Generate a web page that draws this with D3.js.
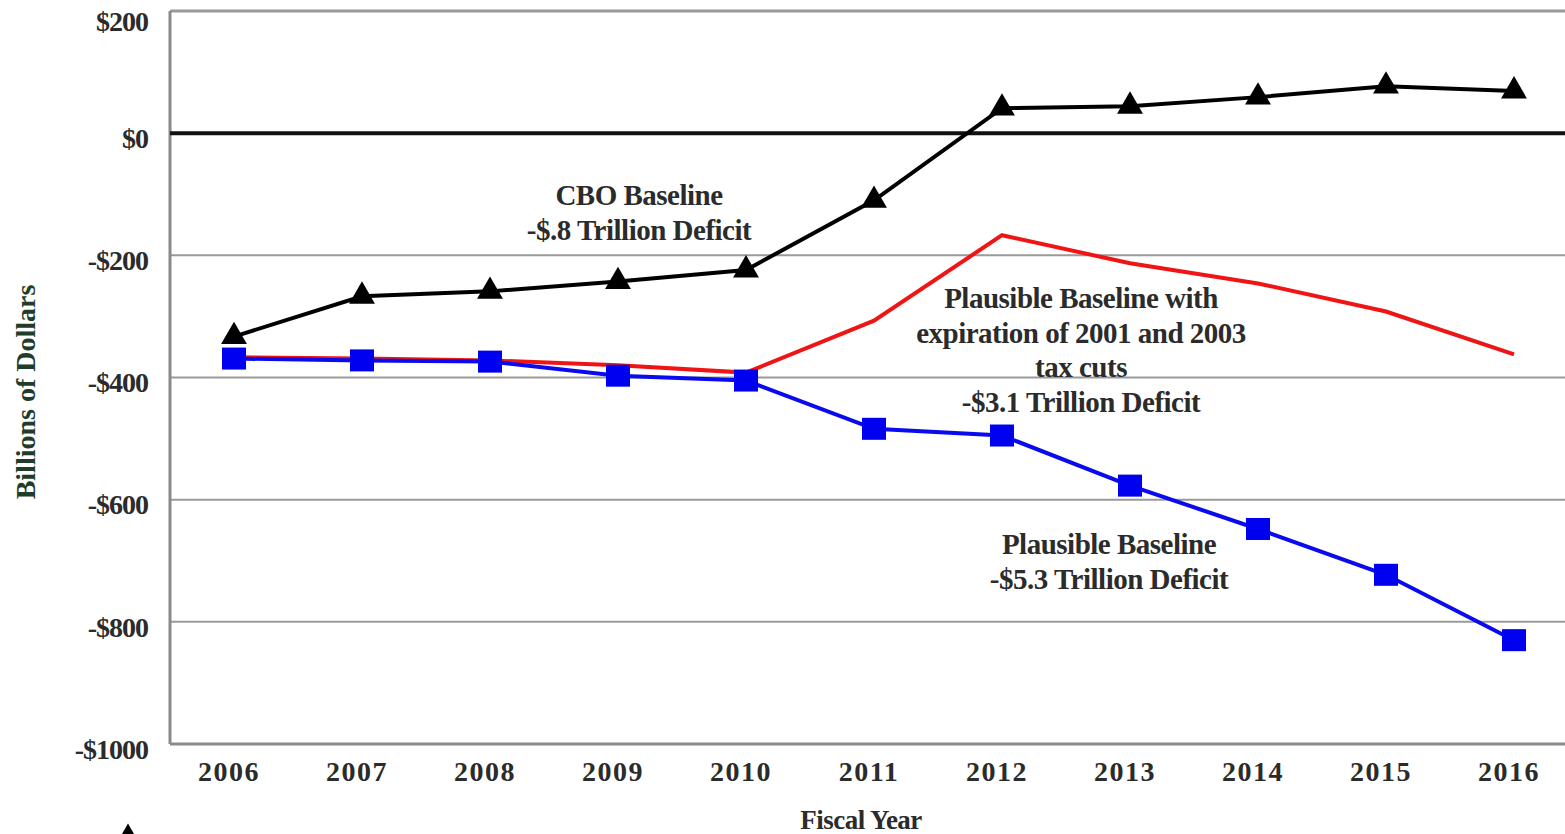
<!DOCTYPE html>
<html>
<head>
<meta charset="utf-8">
<script src="https://cdn.jsdelivr.net/npm/d3@7"></script>
<style>
  body { margin: 0; background: #fff; overflow: hidden; }
  svg { display: block; }
  text { font-family: "Liberation Serif", "DejaVu Serif", serif; font-weight: bold; fill: #2b2b2b; }
</style>
</head>
<body>
<div id="chart"></div>
<script>
// data, billions of dollars
const years = ['2006', '2007', '2008', '2009', '2010', '2011', '2012', '2013', '2014', '2015', '2016'];
const cboBaseline = [-333, -267, -259, -243, -224, -110, 41, 44, 59, 77, 69];
const taxCutsExpire = [-367, -369, -372, -380, -392, -307, -167, -213, -246, -292, -362];
const plausible = [-369, -372, -374, -397, -405, -484, -495, -577, -648, -723, -830];
const yTicks = [200, 0, -200, -400, -600, -800, -1000];
const yTickLabels = ['$200', '$0', '-$200', '-$400', '-$600', '-$800', '-$1000'];

const width = 1565, height = 834;
const margin = { top: 11, left: 170, bottom: 90 };
const plotRight = 1578;

const svg = d3.select('#chart')
.append('svg')
.attr('width', width)
.attr('height', height)

const x = d3.scaleBand()
.domain(years)
.range([margin.left, plotRight])

const y = d3.scaleLinear()
.domain([-1000, 200])
.range([height - margin.bottom, margin.top])

const xc = d => x(d) + x.bandwidth() / 2;

// grid
svg.append('g')
.selectAll('line')
.data(yTicks.filter(d => d != 0))
.enter()
.append('line')
.attr('x1', margin.left)
.attr('x2', plotRight)
.attr('y1', d => y(d))
.attr('y2', d => y(d))
.attr('stroke', d => d == -1000 ? '#8a8a8a' : '#9a9a9a')
.attr('stroke-width', d => d == -1000 || d == 200 ? 3 : 2)

svg.append('line')
.attr('x1', margin.left).attr('x2', margin.left)
.attr('y1', y(200)).attr('y2', y(-1000))
.attr('stroke', '#8a8a8a')
.attr('stroke-width', 3)

svg.append('line')
.attr('x1', margin.left).attr('x2', plotRight)
.attr('y1', y(0)).attr('y2', y(0))
.attr('stroke', '#111')
.attr('stroke-width', 4)

// y tick labels
svg.append('g')
.selectAll('text')
.data(yTicks)
.enter()
.append('text')
.attr('x', 148)
.attr('y', d => Math.max(y(d) + 5, 21))
.attr('dy', '0.35em')
.attr('text-anchor', 'end')
.style('font-size', '28px')
.style('letter-spacing', '-1px')
.text((d, i) => yTickLabels[i])

// x tick labels
svg.append('g')
.selectAll('text')
.data(years)
.enter()
.append('text')
.attr('x', d => xc(d) - 5)
.attr('y', 781)
.attr('text-anchor', 'middle')
.style('font-size', '28px')
.style('letter-spacing', '1.5px')
.text(d => d)

svg.append('text')
.attr('x', 861)
.attr('y', 829)
.attr('text-anchor', 'middle')
.style('font-size', '27px')
.style('letter-spacing', '-0.5px')
.text('Fiscal Year')

svg.append('text')
.attr('transform', 'translate(35,392) rotate(-90)')
.attr('text-anchor', 'middle')
.style('font-size', '28px')
.style('fill', '#1e3d2a')
.text('Billions of Dollars')

const line = d3.line()
.x((d, i) => xc(years[i]))
.y(d => y(d))

// CBO baseline
svg.append('path')
.datum(cboBaseline)
.attr('d', line)
.attr('fill', 'none')
.attr('stroke', '#000')
.attr('stroke-width', 4)

svg.append('g')
.selectAll('path')
.data(cboBaseline)
.enter()
.append('path')
.attr('d', d3.symbol().type(d3.symbolTriangle).size(290))
.attr('transform', (d, i) => 'translate(' + xc(years[i]) + ',' + y(d) + ')')
.attr('fill', '#000')

// tax cuts expire
svg.append('path')
.datum(taxCutsExpire)
.attr('d', line)
.attr('fill', 'none')
.attr('stroke', '#f01515')
.attr('stroke-width', 4)

// plausible baseline
svg.append('path')
.datum(plausible)
.attr('d', line)
.attr('fill', 'none')
.attr('stroke', '#0a0aee')
.attr('stroke-width', 4)

svg.append('g')
.selectAll('rect')
.data(plausible)
.enter()
.append('rect')
.attr('x', (d, i) => xc(years[i]) - 12)
.attr('y', d => y(d) - 11)
.attr('width', 24)
.attr('height', 22)
.attr('fill', '#0000f0')

// annotations
const note = (cx, lines, top) => {
	svg.append('g')
	.selectAll('text')
	.data(lines)
	.enter()
	.append('text')
	.attr('x', cx)
	.attr('y', (d, i) => top + i * 34.5)
	.attr('text-anchor', 'middle')
	.style('font-size', '29px')
	.style('letter-spacing', '-0.5px')
	.text(d => d)
}

note(639, ['CBO Baseline', '-$.8 Trillion Deficit'], 205)
note(1081, ['Plausible Baseline with', 'expiration of 2001 and 2003', 'tax cuts', '-$3.1 Trillion Deficit'], 308)
note(1109, ['Plausible Baseline', '-$5.3 Trillion Deficit'], 554)

// legend, cut off by the bottom edge
svg.append('path')
.attr('d', d3.symbol().type(d3.symbolTriangle).size(200))
.attr('transform', 'translate(128,836)')
.attr('fill', '#000')

svg.append('text')
.attr('x', 150)
.attr('y', 852)
.style('font-size', '24px')
.style('fill', '#aaa')
.text('CBO Baseline -$.8 Trillion Deficit')
</script>
</body>
</html>
